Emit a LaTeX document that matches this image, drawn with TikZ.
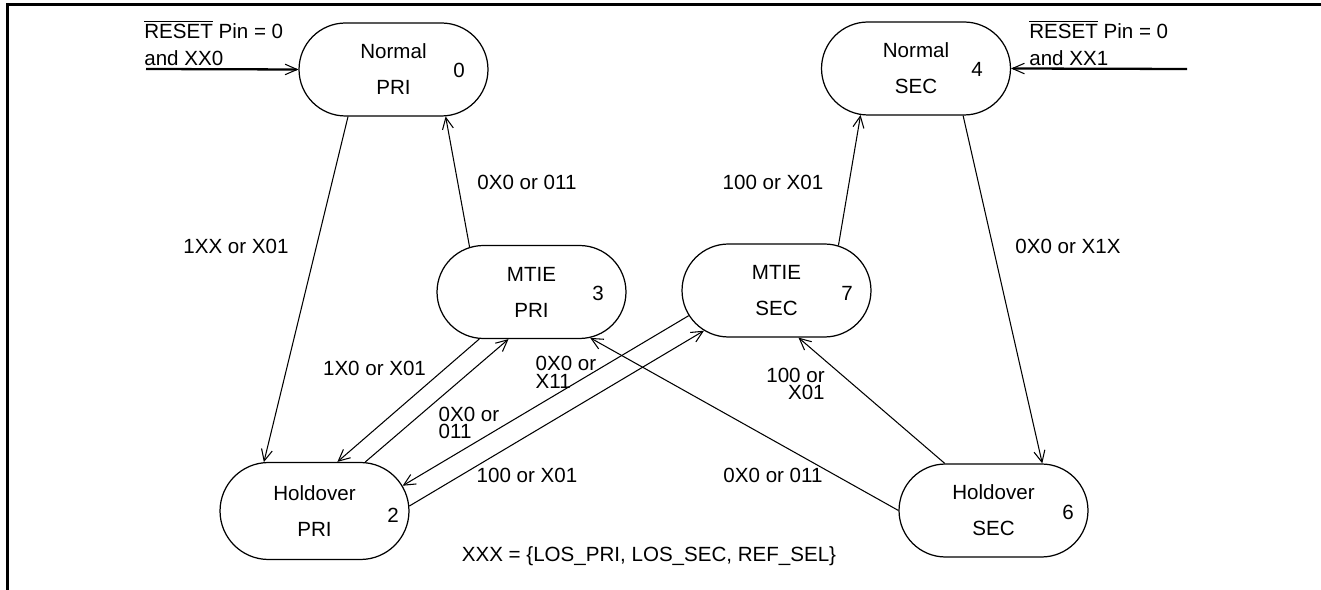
\documentclass[tikz,border=0pt]{standalone}
\usepackage{fontspec}
\setmainfont{Liberation Sans}
\usetikzlibrary{shapes.misc,arrows.meta}

\begin{document}
\begin{tikzpicture}[x=0.02cm,y=-0.02cm,
  every node/.style={font=\fontsize{11.7}{14}\selectfont},%
  st/.style={rounded rectangle,draw,line width=0.7pt,minimum width=3.78cm,%
    minimum height=1.86cm,align=center,inner sep=0pt,%
    font=\fontsize{11.7}{20.5}\selectfont},%
  num/.style={inner sep=0pt},%
  lb/.style={inner sep=0pt},%
  lb2/.style={inner sep=0pt,font=\fontsize{11.7}{10}\selectfont},%
  e/.style={-{Straight Barb[length=2.3mm,width=2.2mm]},line width=0.6pt},%
  ent/.style={-{Straight Barb[length=2.4mm,width=2.1mm,line width=0.6pt]},%
    line width=1.3pt},%
  fr/.style={line width=1.7pt},%
  ]
  \useasboundingbox (0,0) rectangle (1321,590);
  \draw [fr] (7.3,590) -- (7.3,5) -- (1321,5);

  \node (npri) [st] at (393.5,69.5) {Normal\\PRI};
  \node (nsec) [st] at (916,68.5) {Normal\\SEC};
  \node (mpri) [st] at (531.5,292) {MTIE\\PRI};
  \node (msec) [st] at (776.5,290.5) {MTIE\\SEC};
  \node (hpri) [st,minimum height=1.94cm] at (314.5,511) {Holdover\\PRI};
  \node (hsec) [st] at (993.5,510.5) {Holdover\\SEC};

  \node (k0) [num] at (459,70) {0};
  \node (k4) [num] at (977,69.5) {4};
  \node (k3) [num] at (598,293) {3};
  \node (k7) [num] at (847,293) {7};
  \node (k2) [num] at (393,515) {2};
  \node (k6) [num] at (1068,512) {6};

  \coordinate (r0) at (146,69);
  \coordinate (r4) at (1187,69);
  \node (t0) [lb,anchor=south west,align=left,%
  font=\fontsize{11.7}{15.4}\selectfont] at (144,66)
  {$\overline{\hbox{RESET}}$ Pin = 0\\and XX0};
  \node (t4) [lb,anchor=south west,align=left,%
  font=\fontsize{11.7}{15.4}\selectfont] at (1029,66)
  {$\overline{\hbox{RESET}}$ Pin = 0\\and XX1};
  \draw [ent] (r0) -- (npri.west);
  \draw [ent] (r4) -- (nsec.east);

  \draw [e] (npri.-134) -- (hpri.136);
  \draw [e] (mpri.144) -- (npri.-42);
  \draw [e] (msec.36) -- (nsec.-140);
  \draw [e] (nsec.-45) -- (hsec.44);
  \draw [e] (mpri.-138) -- (hpri.65);
  \draw [e] (hpri.44) -- (mpri.-116);
  \draw [e] (msec.-164.5) -- (hpri.16.6);
  \draw [e] (hpri.3.6) -- (msec.-151.5);
  \draw [e] (hsec.180) -- (mpri.-38.7);
  \draw [e] (hsec.136.8) -- (msec.-65.6);

  \node (l1) [lb] at (236,246) {1XX or X01};
  \node (l2) [lb] at (527,182) {0X0 or 011};
  \node (l3) [lb] at (773,182) {100 or X01};
  \node (l4) [lb] at (1068,246) {0X0 or X1X};
  \node (l5) [lb] at (374.5,368) {1X0 or X01};
  \node (l6) [lb2,align=left] at (469,423) {0X0 or\\011};
  \node (l7) [lb2,align=left] at (566,372.5) {0X0 or\\X11};
  \node (l8) [lb] at (527,475) {100 or X01};
  \node (l9) [lb] at (773,475) {0X0 or 011};
  \node (l10) [lb2,align=right] at (795.5,384) {100 or\\X01};
  \node (key) [lb,anchor=base] at (649,561.5)
  {XXX = \{LOS\_PRI, LOS\_SEC, REF\_SEL\}};
\end{tikzpicture}
\end{document}
